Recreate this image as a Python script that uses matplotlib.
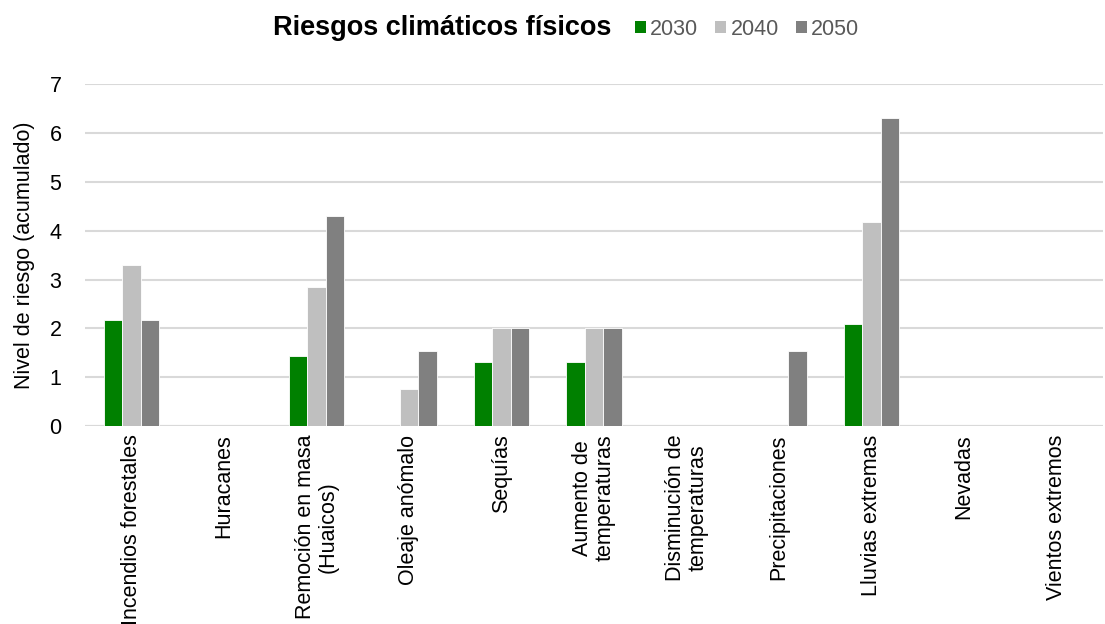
import numpy as np
from matplotlib import pyplot as plt
from matplotlib.patches import Patch

plt.rcParams["font.family"] = ["Liberation Sans", "DejaVu Sans"]

categories = [
    "Incendios forestales", "Huracanes", "Remoción en masa\n(Huaicos)",
    "Oleaje anómalo", "Sequías", "Aumento de\ntemperaturas",
    "Disminución de\ntemperaturas", "Precipitaciones", "Lluvias extremas",
    "Nevadas", "Vientos extremos",
]
years = ["2030", "2040", "2050"]
v2030 = [2.18, 0, 1.43, 0, 1.31, 1.31, 0, 0, 2.09, 0, 0]
v2040 = [3.29, 0, 2.84, 0.77, 2.0, 2.0, 0, 0, 4.17, 0, 0]
v2050 = [2.18, 0, 4.31, 1.53, 2.0, 2.0, 0, 1.53, 6.31, 0, 0]
colors = ["#008000", "#bfbfbf", "#808080"]

fig = plt.figure(figsize=(11.05, 6.24), dpi=100)
ax = fig.add_axes([0.077, 0.317, 0.921, 0.548])

x = np.arange(len(categories))
w = 0.2
for i, (vals, c) in enumerate(zip([v2030, v2040, v2050], colors)):
    ax.bar(x + (i - 1) * w, vals, w, color=c, edgecolor="white", linewidth=0.6, zorder=3)

ax.set_xlim(-0.5, len(categories) - 0.5)
ax.set_ylim(0, 7)
ax.set_yticks(range(8))
ax.yaxis.grid(True, color="#d9d9d9", linewidth=1.5, zorder=0)
for s in ax.spines.values():
    s.set_visible(False)
ax.axhline(0, color="#d9d9d9", linewidth=1.5, zorder=1)
ax.tick_params(axis="both", length=0, labelsize=15.5, colors="black")
ax.tick_params(axis="y", pad=17)
ax.set_xticks(x)
ax.set_xticklabels(categories, rotation=90, ha="center", va="top", multialignment="center",
                   linespacing=1.1)
ax.tick_params(axis="x", pad=6)
ax.set_ylabel("Nivel de riesgo (acumulado)", fontsize=15.5, labelpad=10)

fig.text(0.40, 0.955, "Riesgos climáticos físicos", fontsize=19.5, fontweight="bold",
         ha="center", va="center")
handles = [Patch(facecolor=c, label=y) for c, y in zip(colors, years)]
fig.legend(handles=handles, loc="center", bbox_to_anchor=(0.676, 0.953), ncol=3,
           frameon=False, fontsize=15.5, handlelength=0.5, handleheight=0.5,
           handletextpad=0.2, columnspacing=0.8, labelcolor="#595959")

fig.savefig("out.png", dpi=100)
